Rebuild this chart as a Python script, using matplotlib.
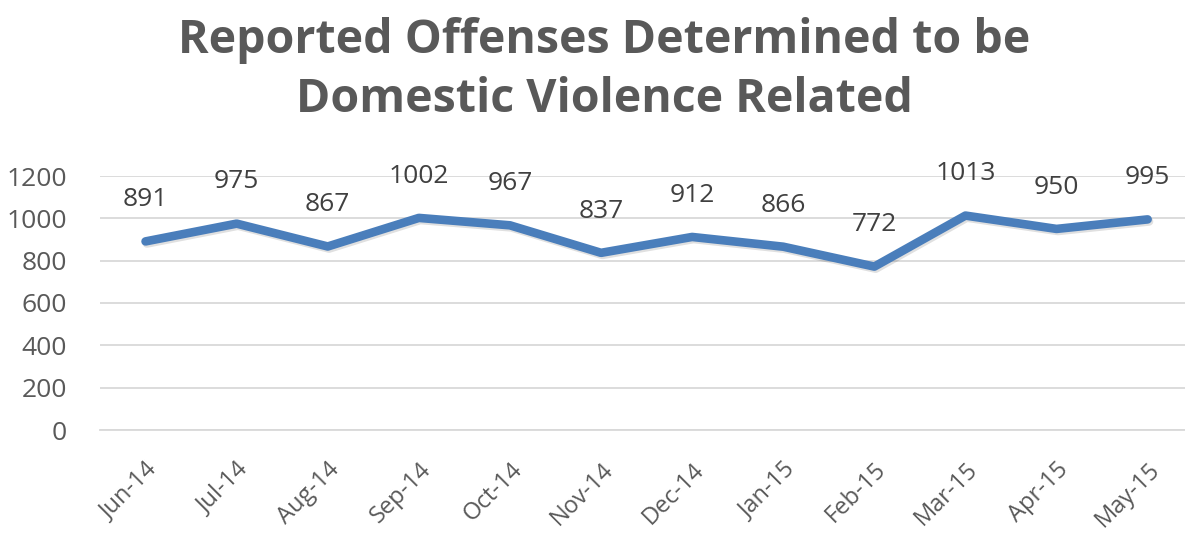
import matplotlib
matplotlib.use("Agg")
import matplotlib.pyplot as plt
import matplotlib.patheffects as pe

# monthly counts
months = ["Jun-14", "Jul-14", "Aug-14", "Sep-14", "Oct-14", "Nov-14",
          "Dec-14", "Jan-15", "Feb-15", "Mar-15", "Apr-15", "May-15"]
offenses = [891, 975, 867, 1002, 967, 837, 912, 866, 772, 1013, 950, 995]
y_ticks = [0, 200, 400, 600, 800, 1000, 1200]

gray = "#595959"
blue = "#4A7EBB"

fig = plt.figure(figsize=(11.85, 5.37), dpi=100)
ax = fig.add_axes([100 / 1185, 1 - 430 / 537, 1 - 100 / 1185, (430 - 176) / 537])

x = list(range(len(months)))
ax.plot(x, offenses, color=blue, linewidth=6.2, solid_capstyle="round",
        solid_joinstyle="round",
        path_effects=[pe.SimpleLineShadow(offset=(1, -1.5), alpha=0.12), pe.Normal()])

for i, v in enumerate(offenses):
    ax.annotate(str(v), (i, v), xytext=(0, 30), textcoords="offset points",
                ha="center", va="center", fontsize=19, color="#404040",
                family="Open Sans")

ax.set_xlim(-0.5, 11.41)
ax.set_ylim(0, 1200)
ax.set_yticks(y_ticks)
ax.set_xticks(x)
ax.set_xticklabels(months, rotation=45, ha="right", rotation_mode="anchor",
                   fontsize=17, color=gray, family="Open Sans")
for lbl in ax.get_yticklabels():
    lbl.set_fontsize(19)
    lbl.set_color(gray)
    lbl.set_family("Open Sans")
ax.tick_params(axis="both", length=0)
ax.tick_params(axis="y", pad=24)
ax.tick_params(axis="x", pad=20)
ax.grid(axis="y", color="#D9D9D9", linewidth=1.3)
ax.set_axisbelow(True)
for s in ax.spines.values():
    s.set_visible(False)
ax.spines["bottom"].set_visible(True)
ax.spines["bottom"].set_color("#D9D9D9")
ax.spines["bottom"].set_linewidth(1.3)

fig.text(0.51, 1 - 40 / 537, "Reported Offenses Determined to be",
         ha="center", va="center", fontsize=33.5, fontweight="bold",
         color=gray, family="Open Sans")
fig.text(0.51, 1 - 100 / 537, "Domestic Violence Related",
         ha="center", va="center", fontsize=33.5, fontweight="bold",
         color=gray, family="Open Sans")

fig.savefig("out.png", dpi=100)
